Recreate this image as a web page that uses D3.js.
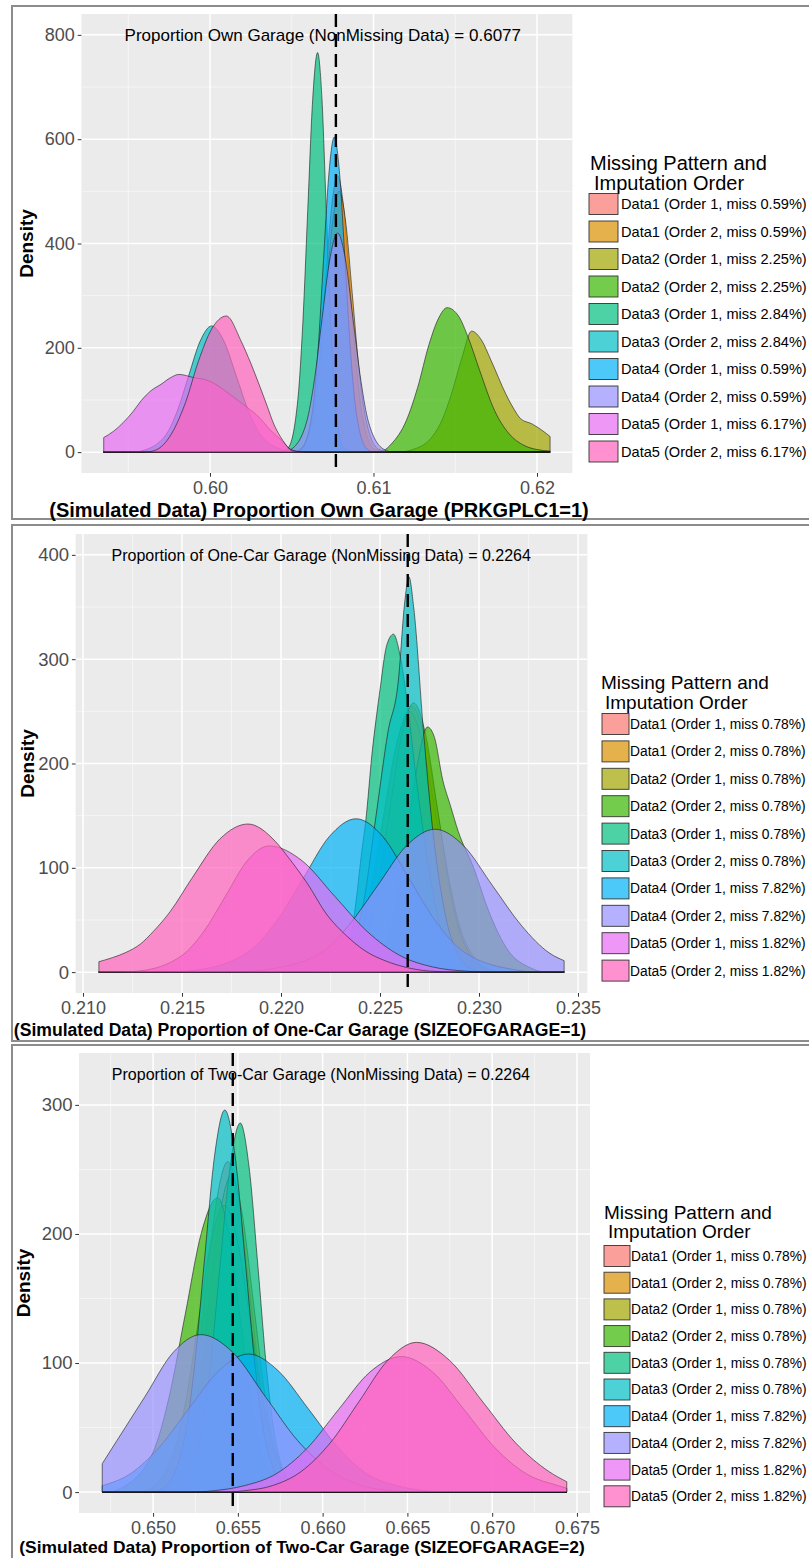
<!DOCTYPE html>
<html>
<head>
<meta charset="utf-8">
<script src="https://cdn.jsdelivr.net/npm/d3@7/dist/d3.min.js"></script>
<style>
  html, body { margin: 0; padding: 0; background: #ffffff; }
  svg { display: block; }
</style>
</head>
<body>
<svg id="chart" width="809" height="1558"></svg>
<script>
// ================= DATA =================
const seriesNames = ["Data1 (Order 1", "Data1 (Order 2", "Data2 (Order 1", "Data2 (Order 2", "Data3 (Order 1",
                     "Data3 (Order 2", "Data4 (Order 1", "Data4 (Order 2", "Data5 (Order 1", "Data5 (Order 2"];
const seriesColors = ["#F8766D", "#D89000", "#A3A500", "#39B600", "#00BF7D",
                      "#00BFC4", "#00B0F6", "#9590FF", "#E76BF3", "#FF62BC"];
const missP1 = ["0.59%", "0.59%", "2.25%", "2.25%", "2.84%", "2.84%", "0.59%", "0.59%", "6.17%", "6.17%"];
const missP2 = ["0.78%", "0.78%", "0.78%", "0.78%", "0.78%", "0.78%", "7.82%", "7.82%", "1.82%", "1.82%"];
const missP3 = ["0.78%", "0.78%", "0.78%", "0.78%", "0.78%", "0.78%", "7.82%", "7.82%", "1.82%", "1.82%"];
const legendTitle = ["Missing Pattern and", "Imputation Order"];

const xTitles = ["(Simulated Data) Proportion Own Garage (PRKGPLC1=1)",
                 "(Simulated Data) Proportion of One-Car Garage (SIZEOFGARAGE=1)",
                 "(Simulated Data) Proportion of Two-Car Garage (SIZEOFGARAGE=2)"];
const yTitle = "Density";
const annotTexts = ["Proportion Own Garage (NonMissing Data) = 0.6077",
                    "Proportion of One-Car Garage (NonMissing Data) = 0.2264",
                    "Proportion of Two-Car Garage (NonMissing Data) = 0.2264"];
const annotX = [0.6069, 0.22203, 0.6599];
const annotY = [800, 400, 324];
const vlineX = [0.6077, 0.2264, 0.6547];

const xTicksP1 = [0.60, 0.61, 0.62];
const xTickLabelsP1 = ["0.60", "0.61", "0.62"];
const yTicksP1 = [0, 200, 400, 600, 800];
const xTicksP2 = [0.210, 0.215, 0.220, 0.225, 0.230, 0.235];
const xTickLabelsP2 = ["0.210", "0.215", "0.220", "0.225", "0.230", "0.235"];
const yTicksP2 = [0, 100, 200, 300, 400];
const xTicksP3 = [0.650, 0.655, 0.660, 0.665, 0.670, 0.675];
const xTickLabelsP3 = ["0.650", "0.655", "0.660", "0.665", "0.670", "0.675"];
const yTicksP3 = [0, 100, 200, 300];

// density curves: [x, density]
const densityP1 = [
  [[0.5935,0],[0.6050,0],[0.60555,6],[0.6063,72],[0.60668,172],[0.60705,322],[0.60743,467],[0.6078,530],[0.60818,467],[0.60855,322],[0.60893,172],[0.6093,72],[0.61005,6],[0.6110,0],[0.6208,0]],
  [[0.5935,0],[0.6050,0],[0.6055,6],[0.6063,68],[0.6067,163],[0.6071,304],[0.6075,441],[0.6079,500],[0.6083,441],[0.6087,304],[0.6091,163],[0.6095,68],[0.6103,6],[0.6110,0],[0.6208,0]],
  [[0.5935,0],[0.6115,0],[0.6124,5],[0.6136,30],[0.6142,62],[0.6148,115],[0.6154,180],[0.6160,232],[0.6166,215],[0.6172,175],[0.6181,111],[0.6186,82],[0.6190,64],[0.6197,54],[0.6203,42],[0.6208,30]],
  [[0.5935,0],[0.6100,0],[0.6106,3],[0.6111,16],[0.6120,60],[0.6127,124],[0.6134,207],[0.6140,258],[0.6145,277],[0.6152,261],[0.6158,219],[0.6165,156],[0.6174,80],[0.6183,35],[0.6192,13],[0.6200,5],[0.6208,2]],
  [[0.5935,0],[0.6043,0],[0.60478,8],[0.60538,103],[0.60568,249],[0.60598,465],[0.60628,676],[0.60658,766],[0.60685,676],[0.60711,465],[0.60738,249],[0.60764,103],[0.60817,8],[0.6087,0],[0.6208,0]],
  [[0.5935,0],[0.5953,0],[0.5959,3],[0.5973,33],[0.5980,79],[0.5987,147],[0.5994,213],[0.6001,242],[0.60085,213],[0.6016,147],[0.60235,79],[0.6031,33],[0.6046,3],[0.6052,0],[0.6208,0]],
  [[0.5935,0],[0.6052,0],[0.60562,7],[0.60628,82],[0.60661,196],[0.60694,367],[0.60727,533],[0.6076,604],[0.60793,533],[0.60826,367],[0.60859,196],[0.60892,82],[0.60958,7],[0.6101,0],[0.6208,0]],
  [[0.5935,0],[0.6045,0],[0.60495,5],[0.6059,57],[0.60638,137],[0.60685,255],[0.60733,370],[0.6078,420],[0.60828,370],[0.60875,255],[0.60923,137],[0.6097,57],[0.61065,5],[0.6112,0],[0.6208,0]],
  [[0.5935,28],[0.5941,40],[0.5947,57],[0.5953,78],[0.5958,99],[0.5964,118],[0.5970,130],[0.5976,143],[0.5981,149],[0.5990,143],[0.5999,137],[0.6006,125],[0.6012,111],[0.6021,90],[0.6030,67],[0.6037,42],[0.6044,22],[0.6049,6],[0.6055,1],[0.6065,0],[0.6208,0]],
  [[0.5935,0],[0.5960,0],[0.5966,3],[0.5975,28],[0.5985,95],[0.5993,175],[0.6001,236],[0.6010,261],[0.6019,213],[0.6025,170],[0.6030,130],[0.6035,88],[0.6039,54],[0.6043,30],[0.6046,16],[0.6050,3],[0.6058,0],[0.6208,0]]
];

const densityP2 = [
  [[0.2108,0],[0.2220,0],[0.2227,3],[0.2240,34],[0.22465,83],[0.2253,155],[0.22595,225],[0.2266,255],[0.22725,225],[0.2279,155],[0.22855,83],[0.2292,34],[0.2305,3],[0.2312,0],[0.2343,0]],
  [[0.2108,0],[0.2219,0],[0.2226,3],[0.2239,34],[0.22455,81],[0.2252,152],[0.22585,220],[0.2265,250],[0.22715,220],[0.2278,152],[0.22845,81],[0.2291,34],[0.2304,3],[0.2311,0],[0.2343,0]],
  [[0.2108,0],[0.2224,0],[0.2231,3],[0.2243,35],[0.2249,84],[0.2255,157],[0.2261,228],[0.2267,258],[0.2273,228],[0.2279,157],[0.2285,84],[0.2291,35],[0.2303,3],[0.2310,0],[0.2343,0]],
  [[0.2108,0],[0.2240,0],[0.2250,15],[0.2258,65],[0.2264,135],[0.2269,200],[0.2274,235],[0.22775,225],[0.22817,184],[0.22855,160],[0.22895,135],[0.22973,100],[0.2305,58],[0.2315,20],[0.2325,5],[0.2335,0],[0.2343,0]],
  [[0.2108,0],[0.2215,0],[0.2226,5],[0.2233,18],[0.2237,55],[0.2241,119],[0.22428,145],[0.2246,210],[0.22496,265],[0.22535,314],[0.22568,324],[0.2260,305],[0.2264,255],[0.2268,190],[0.2273,120],[0.2279,55],[0.2286,15],[0.2294,2],[0.2300,0],[0.2343,0]],
  [[0.2108,0],[0.2215,0],[0.2228,5],[0.2236,25],[0.2242,70],[0.2248,150],[0.2254,230],[0.22593,280],[0.22625,355],[0.22646,379],[0.2267,350],[0.2272,230],[0.2277,130],[0.2283,55],[0.2290,15],[0.2298,2],[0.2305,0],[0.2343,0]],
  [[0.2108,0],[0.2140,0],[0.21569,2],[0.21839,20],[0.21974,48],[0.22109,89],[0.22244,130],[0.22379,147],[0.22514,130],[0.22649,89],[0.22784,48],[0.22919,20],[0.23189,2],[0.2330,0],[0.2343,0]],
  [[0.2108,0],[0.2175,0],[0.21908,2],[0.22198,18],[0.22343,45],[0.22488,83],[0.22633,121],[0.22778,137],[0.22923,121],[0.23068,83],[0.23213,45],[0.23358,18],[0.2343,11]],
  [[0.2108,0],[0.2118,0],[0.2128,1],[0.2150,16],[0.2161,39],[0.2172,73],[0.2183,107],[0.2194,121],[0.22105,107],[0.2227,73],[0.22435,39],[0.2260,16],[0.22765,5],[0.2293,1],[0.2305,0],[0.2343,0]],
  [[0.2108,10],[0.2115,14],[0.21218,19],[0.2129,27],[0.21355,39],[0.2144,58],[0.2155,90],[0.21693,128],[0.21833,142],[0.21973,125],[0.22037,110],[0.22133,85],[0.22232,55],[0.2233,35],[0.22428,20],[0.22525,11],[0.22623,5],[0.2275,1],[0.2290,0],[0.2343,0]]
];

const densityP3 = [
  [[0.6470,0],[0.6498,0],[0.6505,3],[0.6518,35],[0.65245,83],[0.6531,155],[0.65375,226],[0.6544,256],[0.65505,226],[0.6557,155],[0.65635,83],[0.6570,35],[0.6583,3],[0.6590,0],[0.6744,0]],
  [[0.6470,0],[0.6500,0],[0.6507,3],[0.6520,33],[0.65265,80],[0.6533,149],[0.65395,216],[0.6546,245],[0.65525,216],[0.6559,149],[0.65655,80],[0.6572,33],[0.6585,3],[0.6592,0],[0.6744,0]],
  [[0.6470,0],[0.6490,0],[0.6497,2],[0.6512,30],[0.65195,72],[0.6527,135],[0.65345,196],[0.6542,222],[0.65495,196],[0.6557,135],[0.65645,72],[0.6572,30],[0.6587,2],[0.6595,0],[0.6744,0]],
  [[0.6470,0],[0.6474,0],[0.6481,3],[0.6500,31],[0.65095,74],[0.6519,138],[0.65285,201],[0.6538,228],[0.65445,201],[0.6551,138],[0.65575,74],[0.6564,31],[0.6577,3],[0.6584,0],[0.6744,0]],
  [[0.6470,0],[0.6508,0],[0.65154,3],[0.65274,39],[0.65334,93],[0.65394,174],[0.65454,252],[0.65514,286],[0.65566,252],[0.65619,174],[0.65671,93],[0.65724,39],[0.65829,3],[0.6589,0],[0.6744,0]],
  [[0.6470,0],[0.6500,0],[0.65063,3],[0.65183,40],[0.65243,96],[0.65303,180],[0.65363,261],[0.65423,296],[0.65483,261],[0.65543,180],[0.65603,96],[0.65663,40],[0.65783,3],[0.6585,0],[0.6744,0]],
  [[0.6470,5],[0.64863,14],[0.65038,35],[0.65213,65],[0.65388,94],[0.65563,107],[0.65738,94],[0.65913,65],[0.66088,35],[0.66263,14],[0.66438,5],[0.66613,1],[0.6675,0],[0.6744,0]],
  [[0.6470,22],[0.64787,40],[0.64952,74],[0.65117,108],[0.65282,122],[0.65472,108],[0.65662,74],[0.65852,40],[0.66042,17],[0.66232,5],[0.66422,1],[0.6655,0],[0.6744,0]],
  [[0.6470,0],[0.6525,0],[0.65354,1],[0.65539,5],[0.65724,14],[0.65909,34],[0.66094,64],[0.66279,93],[0.66464,105],[0.66649,93],[0.66834,64],[0.67019,34],[0.67204,14],[0.67389,5],[0.6744,3]],
  [[0.6470,0],[0.6545,0],[0.65534,1],[0.65704,5],[0.65874,16],[0.66044,38],[0.66214,70],[0.66384,102],[0.66554,116],[0.66749,102],[0.66944,70],[0.67139,38],[0.67334,16],[0.6744,8]]
];

// ================= LAYOUT =================
const FONT = "'Liberation Sans', Arial, Helvetica, sans-serif";
const panels = [
  { curves: densityP1, miss: missP1, xTicks: xTicksP1, xLabels: xTickLabelsP1, yTicks: yTicksP1,
    frameTop: 6, frameBottom: 519, left: 81.4, right: 572.4, top: 14, bottom: 473,
    xTickFont: 18, yTickFont: 18, xTitleFont: 20, xTitleX: 319, xTitleDy: 44, yTitleFont: 19, yTitleX: 33, annotFont: 17,
    legTitleX: 590, legTitleY: 170, legTitleFont: 20, legLineGap: 20,
    keyX: 589, keyW: 29, keyH: 21, keyY0: 204, keyStep: 27.5, legTextX: 621, legTextFont: 14.6 },
  { curves: densityP2, miss: missP2, xTicks: xTicksP2, xLabels: xTickLabelsP2, yTicks: yTicksP2,
    frameTop: 525, frameBottom: 1041, left: 75.6, right: 587.4, top: 534, bottom: 993,
    xTickFont: 18, yTickFont: 18.5, xTitleFont: 17.6, xTitleX: 300, xTitleDy: 43, yTitleFont: 19, yTitleX: 34, annotFont: 16,
    legTitleX: 601, legTitleY: 689, legTitleFont: 19, legLineGap: 20,
    keyX: 602, keyW: 27, keyH: 21, keyY0: 724, keyStep: 27.4, legTextX: 630, legTextFont: 13.8 },
  { curves: densityP3, miss: missP3, xTicks: xTicksP3, xLabels: xTickLabelsP3, yTicks: yTicksP3,
    frameTop: 1045, frameBottom: 1590, left: 79, right: 590, top: 1053, bottom: 1513,
    xTickFont: 18, yTickFont: 18.5, xTitleFont: 17.4, xTitleX: 302, xTitleDy: 40, yTitleFont: 19, yTitleX: 30, annotFont: 16,
    legTitleX: 604, legTitleY: 1219, legTitleFont: 19, legLineGap: 19,
    keyX: 604, keyW: 26, keyH: 21, keyY0: 1256, keyStep: 26.7, legTextX: 631, legTextFont: 13.8 }
];

const svg = d3.select("#chart");
svg.append("rect").attr("width", 809).attr("height", 1558).attr("fill", "#ffffff");

panels.forEach((p, pi) => {
  const g = svg.append("g");

  // frame
  g.append("rect")
    .attr("x", 12).attr("y", p.frameTop)
    .attr("width", 840).attr("height", p.frameBottom - p.frameTop)
    .attr("fill", "#ffffff").attr("stroke", "#8c8c8c").attr("stroke-width", 2);

  // scales
  const allPts = p.curves.flat();
  const [xmin, xmax] = d3.extent(allPts, d => d[0]);
  const xpad = (xmax - xmin) * 0.05;
  const ytop = Math.max(annotY[pi], d3.max(allPts, d => d[1]));
  const x = d3.scaleLinear().domain([xmin - xpad, xmax + xpad]).range([p.left, p.right]);
  const y = d3.scaleLinear().domain([-ytop * 0.05, ytop * 1.05]).range([p.bottom, p.top]);

  // panel background
  g.append("rect").attr("x", p.left).attr("y", p.top)
    .attr("width", p.right - p.left).attr("height", p.bottom - p.top).attr("fill", "#EBEBEB");

  // grid lines
  const xStep = p.xTicks[1] - p.xTicks[0];
  const yStep = p.yTicks[1] - p.yTicks[0];
  const xd = x.domain(), yd = y.domain();
  const xMinor = [p.xTicks[0] - xStep / 2].concat(p.xTicks.map(t => t + xStep / 2)).filter(v => v > xd[0] && v < xd[1]);
  const yMinor = [p.yTicks[0] - yStep / 2].concat(p.yTicks.map(t => t + yStep / 2)).filter(v => v > yd[0] && v < yd[1]);
  const grid = g.append("g");
  grid.selectAll(".xminor").data(xMinor).join("line")
    .attr("x1", d => x(d)).attr("x2", d => x(d)).attr("y1", p.top).attr("y2", p.bottom)
    .attr("stroke", "#F7F7F7").attr("stroke-width", 0.8);
  grid.selectAll(".yminor").data(yMinor).join("line")
    .attr("y1", d => y(d)).attr("y2", d => y(d)).attr("x1", p.left).attr("x2", p.right)
    .attr("stroke", "#F7F7F7").attr("stroke-width", 0.8);
  grid.selectAll(".xmajor").data(p.xTicks).join("line")
    .attr("x1", d => x(d)).attr("x2", d => x(d)).attr("y1", p.top).attr("y2", p.bottom)
    .attr("stroke", "#ffffff").attr("stroke-width", 1.5);
  grid.selectAll(".ymajor").data(p.yTicks).join("line")
    .attr("y1", d => y(d)).attr("y2", d => y(d)).attr("x1", p.left).attr("x2", p.right)
    .attr("stroke", "#ffffff").attr("stroke-width", 1.5);

  // density areas
  const area = d3.area().x(d => x(d[0])).y0(y(0)).y1(d => y(d[1])).curve(d3.curveMonotoneX);
  g.append("g").selectAll("path").data(p.curves).join("path")
    .attr("d", d => area(d))
    .attr("fill", (d, i) => seriesColors[i]).attr("fill-opacity", 0.7)
    .attr("stroke", "#1a1a1a").attr("stroke-opacity", 0.85).attr("stroke-width", 0.7)
    .attr("stroke-linejoin", "round");

  // dashed vertical line
  g.append("line")
    .attr("x1", x(vlineX[pi])).attr("x2", x(vlineX[pi]))
    .attr("y1", p.top).attr("y2", p.bottom)
    .attr("stroke", "#000000").attr("stroke-width", 2.4).attr("stroke-dasharray", "13,7");

  // annotation
  g.append("text")
    .attr("x", x(annotX[pi])).attr("y", y(annotY[pi])).attr("dy", "0.36em")
    .attr("text-anchor", "middle").attr("font-family", FONT).attr("font-size", p.annotFont)
    .attr("fill", "#000000").text(annotTexts[pi]);

  // axes
  const xAxis = d3.axisBottom(x).tickValues(p.xTicks)
    .tickFormat((d, i) => p.xLabels[i]).tickSize(3.7).tickPadding(4.5);
  g.append("g").attr("transform", `translate(0,${p.bottom})`).call(xAxis)
    .call(s => s.select(".domain").remove())
    .call(s => s.selectAll("line").attr("stroke", "#333333").attr("stroke-width", 1))
    .call(s => s.selectAll("text").attr("fill", "#4D4D4D").attr("font-family", FONT).attr("font-size", p.xTickFont));
  const yAxis = d3.axisLeft(y).tickValues(p.yTicks).tickFormat(d3.format("d")).tickSize(3.7).tickPadding(2.8);
  g.append("g").attr("transform", `translate(${p.left},0)`).call(yAxis)
    .call(s => s.select(".domain").remove())
    .call(s => s.selectAll("line").attr("stroke", "#333333").attr("stroke-width", 1))
    .call(s => s.selectAll("text").attr("fill", "#4D4D4D").attr("font-family", FONT).attr("font-size", p.yTickFont));

  // axis titles
  g.append("text")
    .attr("x", p.xTitleX).attr("y", p.bottom + p.xTitleDy)
    .attr("text-anchor", "middle").attr("font-family", FONT).attr("font-weight", "bold")
    .attr("font-size", p.xTitleFont).attr("fill", "#000000").text(xTitles[pi]);
  g.append("text")
    .attr("transform", `translate(${p.yTitleX},${(p.top + p.bottom) / 2}) rotate(-90)`)
    .attr("text-anchor", "middle").attr("font-family", FONT).attr("font-weight", "bold")
    .attr("font-size", p.yTitleFont).attr("fill", "#000000").text(yTitle);

  // legend
  const leg = g.append("g");
  leg.append("text").attr("x", p.legTitleX).attr("y", p.legTitleY)
    .attr("font-family", FONT).attr("font-size", p.legTitleFont).attr("fill", "#000000").text(legendTitle[0]);
  leg.append("text").attr("x", p.legTitleX + 4).attr("y", p.legTitleY + p.legLineGap)
    .attr("font-family", FONT).attr("font-size", p.legTitleFont).attr("fill", "#000000").text(legendTitle[1]);
  const items = leg.selectAll(".item").data(seriesNames).join("g")
    .attr("transform", (d, i) => `translate(0,${p.keyY0 + i * p.keyStep})`);
  items.append("rect")
    .attr("x", p.keyX).attr("y", -p.keyH / 2).attr("width", p.keyW).attr("height", p.keyH)
    .attr("fill", (d, i) => seriesColors[i]).attr("fill-opacity", 0.7)
    .attr("stroke", "#333333").attr("stroke-width", 0.9);
  items.append("text")
    .attr("x", p.legTextX).attr("y", 0).attr("dy", "0.36em")
    .attr("font-family", FONT).attr("font-size", p.legTextFont).attr("fill", "#000000")
    .text((d, i) => `${d}, miss ${p.miss[i]})`);
});
</script>
</body>
</html>
